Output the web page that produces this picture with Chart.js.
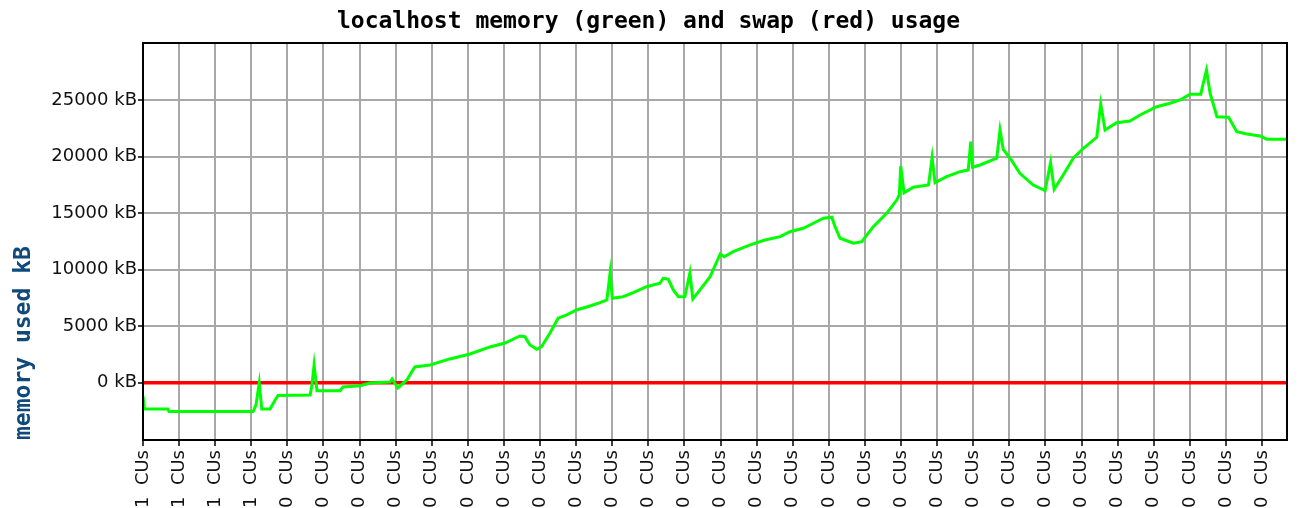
<!DOCTYPE html>
<html>
<head>
<meta charset="utf-8">
<title>localhost memory and swap usage</title>
<script src="https://cdn.jsdelivr.net/npm/chart.js@4"></script>
<style>
  html, body { margin: 0; padding: 0; background: #fff; overflow: hidden; }
  #wrap { width: 1300px; height: 508px; }
</style>
</head>
<body>
<div id="wrap"><canvas id="memChart" width="1300" height="508"></canvas></div>
<script>
// time in grid intervals (one vertical gridline per unit), memory in kB
const memTime = [
    0, 0.04, 0.69, 0.72, 3.05, 3.13, 3.22, 3.29, 3.52, 3.66,
    3.74, 4.63, 4.68, 4.74, 4.82, 5.46, 5.54, 6.01, 6.29, 6.84,
    6.90, 7.06, 7.31, 7.53, 7.95, 8.50, 9.06, 9.61, 10.03, 10.44,
    10.58, 10.72, 10.91, 11.04, 11.27, 11.50, 11.74, 12.01, 12.38, 12.66,
    12.85, 12.94, 13.00, 13.30, 13.58, 13.95, 14.32, 14.41, 14.55, 14.69,
    14.83, 15.01, 15.15, 15.23, 15.43, 15.71, 15.99, 16.10, 16.35, 16.82,
    17.23, 17.65, 17.92, 18.29, 18.57, 18.85, 19.08, 19.17, 19.31, 19.68,
    19.91, 20.23, 20.60, 20.88, 20.95, 20.99, 21.08, 21.34, 21.76, 21.86,
    21.94, 22.26, 22.63, 22.86, 22.93, 22.98, 23.19, 23.65, 23.74, 23.83,
    24.02, 24.29, 24.66, 24.99, 25.14, 25.24, 25.49, 25.77, 26.05, 26.42,
    26.53, 26.65, 26.97, 27.34, 27.62, 28.08, 28.45, 28.73, 29.00, 29.30,
    29.37, 29.46, 29.56, 29.75, 30.07, 30.30, 30.58, 30.94, 31.13, 31.69
];
const memUsed = [
    -1180, -2330, -2330, -2560, -2560, -1970, -30, -2330, -2330, -1530,
    -1130, -1090, -200, 1565, -710, -710, -380, -265, -30, 60,
    330, -470, 240, 1390, 1565, 2100, 2540, 3160, 3510, 4130,
    4070, 3330, 2950, 3180, 4370, 5700, 5990, 6430, 6780, 7080,
    7310, 9730, 7460, 7600, 7960, 8490, 8790, 9230, 9150, 8200,
    7600, 7600, 9730, 7400, 8200, 9380, 11380, 11140, 11590, 12180,
    12620, 12910, 13350, 13650, 14100, 14540, 14630, 13800, 12770, 12330,
    12470, 13800, 14980, 16150, 16600, 19160, 16800, 17280, 17480, 19930,
    17690, 18220, 18660, 18810, 21310, 19050, 19250, 19850, 22350, 20640,
    19850, 18520, 17480, 16980, 19460, 17100, 18370, 19850, 20730, 21700,
    24650, 22350, 22990, 23140, 23670, 24400, 24710, 25000, 25500, 25500,
    26480, 27650, 25590, 23520, 23470, 22200, 21990, 21820, 21530, 21530
];
const swapTime = [0, 31.69];
const swapUsed = [0, 0];

const xTicks = [0, 1, 2, 3, 4, 5, 6, 7, 8, 9, 10, 11, 12, 13, 14, 15,
    16, 17, 18, 19, 20, 21, 22, 23, 24, 25, 26, 27, 28, 29, 30, 31];
const xLabels = xTicks.map(t => (t < 4 ? '1  CUs' : '0  CUs'));
const yTicks = [0, 5000, 10000, 15000, 20000, 25000];
const yLabels = ['0 kB', '5000 kB', '10000 kB', '15000 kB', '20000 kB', '25000 kB'];

Chart.defaults.font.family = 'DejaVu Sans';

const monoBold = { family: 'DejaVu Sans Mono', size: 23, weight: 'bold', lineHeight: 1.2 };

// top and right edges of the plot frame
const frame = {
    id: 'frame',
    afterDatasetsDraw(chart) {
        const { ctx, chartArea: a } = chart;
        ctx.save();
        ctx.strokeStyle = '#000';
        ctx.lineWidth = 2;
        ctx.strokeRect(a.left, a.top, a.right - a.left, a.bottom - a.top);
        ctx.restore();
    }
};

new Chart(document.getElementById('memChart'), {
    type: 'line',
    data: {
        datasets: [{
            label: 'memory',
            data: memTime.map((t, i) => ({ x: t, y: memUsed[i] })),
            borderColor: '#00ff00',
            borderWidth: 3,
            pointRadius: 0,
            tension: 0,
            fill: false
        }, {
            label: 'swap',
            data: swapTime.map((t, i) => ({ x: t, y: swapUsed[i] })),
            borderColor: '#ff0000',
            borderWidth: 3.5,
            pointRadius: 0,
            fill: false
        }]
    },
    options: {
        responsive: false,
        animation: false,
        layout: { padding: { left: 10, right: 13, top: 0, bottom: 0 } },
        plugins: {
            legend: { display: false },
            tooltip: { enabled: false },
            title: {
                display: true,
                text: 'localhost memory (green) and swap (red) usage',
                color: '#000',
                font: monoBold,
                padding: { top: 8, bottom: 7.4 }
            }
        },
        scales: {
            x: {
                type: 'linear',
                min: 0,
                max: 31.69,
                afterBuildTicks: s => { s.ticks = xTicks.map(v => ({ value: v })); },
                afterFit: s => { s.height = 68; },
                grid: { color: '#a8a8a8', lineWidth: 2, tickLength: 6, tickColor: '#000', tickWidth: 1.5 },
                border: { color: '#000', width: 2 },
                ticks: {
                    autoSkip: false,
                    maxRotation: 90,
                    minRotation: 90,
                    padding: 4,
                    color: '#111',
                    font: { size: 18 },
                    callback: (v, i) => xLabels[i]
                }
            },
            y: {
                type: 'linear',
                min: -5070,
                max: 30040,
                afterBuildTicks: s => { s.ticks = yTicks.map(v => ({ value: v })); },
                afterFit: s => { s.width = 133; },
                grid: { color: '#a8a8a8', lineWidth: 2, tickLength: 5, tickColor: '#000', tickWidth: 1.5 },
                border: { color: '#000', width: 2 },
                ticks: {
                    padding: 1,
                    color: '#111',
                    font: { size: 18 },
                    callback: (v, i) => yLabels[i]
                },
                title: {
                    display: true,
                    text: 'memory used kB',
                    align: 'start',
                    color: '#104a7c',
                    font: monoBold,
                    padding: { top: 0, bottom: 0 }
                }
            }
        }
    },
    plugins: [frame]
});
</script>
</body>
</html>
